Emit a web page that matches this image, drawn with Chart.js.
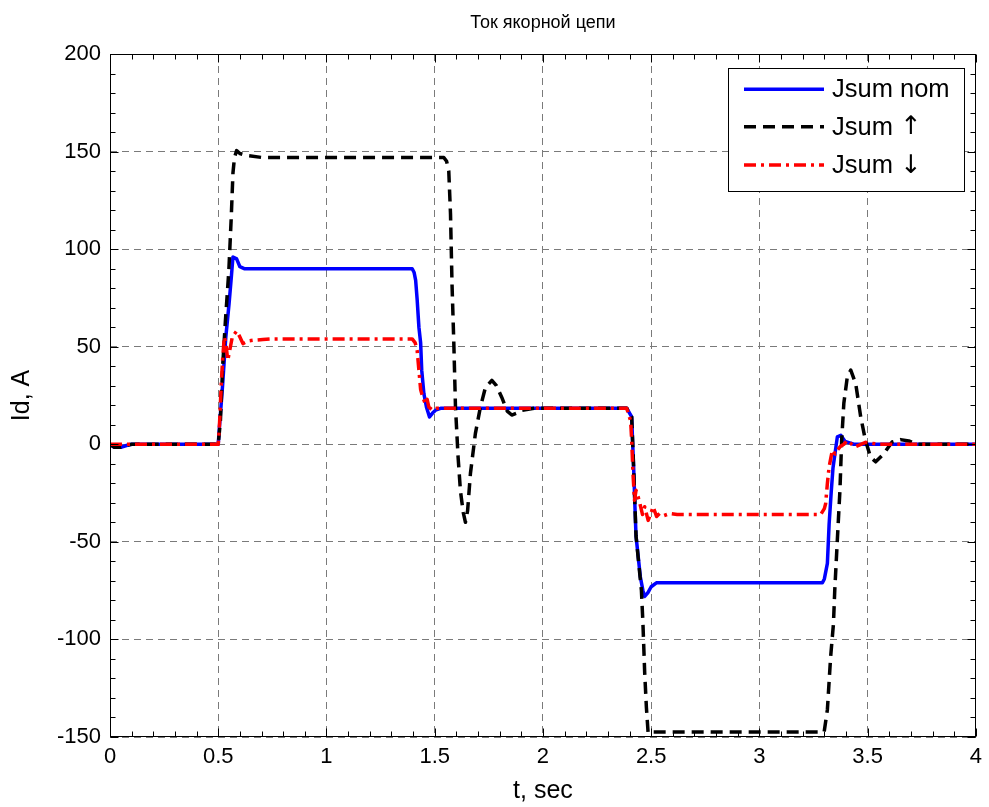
<!DOCTYPE html>
<html><head><meta charset="utf-8">
<script src="https://cdn.jsdelivr.net/npm/chart.js@4/dist/chart.umd.min.js"></script>
<style>html,body{margin:0;padding:0;background:#fff}#wrap{width:989px;height:807px}</style>
</head><body><div id="wrap"><canvas id="c" width="989" height="807"></canvas></div>
<script>
const chartTitle = 'Ток якорной цепи';
const xTitle = 't, sec';
const yTitle = 'Id, A';
const seriesNames = ['Jsum nom', 'Jsum ↑', 'Jsum ↓'];
const xTicks = [0, 0.5, 1, 1.5, 2, 2.5, 3, 3.5, 4];
const yTicks = [-150, -100, -50, 0, 50, 100, 150, 200];

// Jsum nom (blue)
const tNom = [0, 0.02, 0.05, 0.08, 0.1, 0.5, 0.505, 0.52, 0.535, 0.55, 0.56, 0.568, 0.585, 0.6, 0.62,
  1.396, 1.405, 1.412, 1.419, 1.427, 1.435, 1.44, 1.45, 1.462, 1.476, 1.49, 1.504, 1.53,
  2.387, 2.41, 2.414, 2.42, 2.425, 2.43, 2.45, 2.462, 2.47, 2.485, 2.5, 2.524,
  3.291, 3.3, 3.314, 3.322, 3.332, 3.34, 3.36, 3.376, 3.395, 3.436, 4];
const iNom = [0, -1.5, -1.5, -0.5, 0, 0, 8, 30, 55, 72, 85, 96, 95, 91, 90,
  90, 88, 84, 74, 60, 52, 38, 26, 19, 14, 16, 17.5, 18.5,
  18.5, 14, 2, -15, -32, -47, -68, -75, -78, -76, -73, -71,
  -71, -69, -61, -41, -24, -12, 3.8, 4.6, 1.5, 0, 0];

// Jsum ↑ (black dashed)
const tUp = [0, 0.02, 0.05, 0.08, 0.1, 0.5, 0.51, 0.521, 0.533, 0.549, 0.56, 0.568, 0.575, 0.585, 0.6, 0.631, 0.7,
  1.542, 1.555, 1.565, 1.573, 1.58, 1.588, 1.596, 1.608, 1.619, 1.632, 1.642, 1.652, 1.665, 1.688, 1.711, 1.734,
  1.764, 1.785, 1.81, 1.835, 1.856, 1.88, 1.902, 1.964,
  2.387, 2.41, 2.42, 2.43, 2.455, 2.462, 2.47, 2.478, 2.486, 2.5,
  3.299, 3.314, 3.329, 3.342, 3.348, 3.36, 3.372, 3.38, 3.39, 3.406, 3.422, 3.445, 3.468, 3.49, 3.513,
  3.537, 3.575, 3.613, 3.652, 3.69, 3.728, 4];
const iUp = [0, -1.5, -1.5, -0.5, 0, 0, 12, 41, 63, 89, 116, 139, 147, 150.5, 149, 148, 147,
  147, 145, 140, 118, 82, 53, 19, -6.5, -24, -35, -40, -34, -15, 5.6, 19, 29,
  32.8, 30, 24, 17, 15, 16, 17.4, 18.5,
  18.5, 14, -15, -47, -75, -92, -117, -135, -148, -147.5,
  -147.5, -136, -109, -92, -75, -49, -23.6, 2, 21, 34.5, 38, 31, 14, 2, -6.5,
  -9, -4.8, 1.2, 2.4, 1.7, 0, 0];

// Jsum ↓ (red dash-dot)
const tDown = [0, 0.5, 0.506, 0.514, 0.521, 0.528, 0.535, 0.544, 0.553, 0.565, 0.585, 0.6, 0.614, 0.64, 0.66, 0.706, 0.75,
  1.396, 1.41, 1.419, 1.427, 1.435, 1.445, 1.456, 1.465, 1.473, 1.49, 1.51,
  2.387, 2.405, 2.41, 2.416, 2.423, 2.43, 2.44, 2.448, 2.46, 2.47, 2.486, 2.5, 2.509, 2.525, 2.539, 2.56, 2.585, 2.62,
  3.283, 3.3, 3.306, 3.314, 3.322, 3.33, 3.337, 3.35, 3.36, 3.375, 3.39, 3.406, 3.44, 3.49, 3.55, 4];
const iDown = [0, 0, 10.6, 31, 44.7, 55, 52, 43, 48, 55, 58, 55, 51.6, 53, 53.3, 53.7, 54,
  54, 52, 48, 38, 28, 24, 21, 23, 19, 17.5, 18.5,
  18.5, 12, 2, -15, -28.7, -23.6, -27, -30.4, -36, -32, -39, -35, -32, -37, -35.5, -36.5, -35.5, -36,
  -36, -33, -30.4, -20, -11.6, -7, -3, -5, -3, -1, 0, 2, -1.4, 1, 0, 0];

const FONT = '"Liberation Sans", Arial, Helvetica, sans-serif';
const ARROW_FONT = '"DejaVu Sans", sans-serif';
const pts = (t, v) => t.map((x, i) => ({x: x, y: v[i]}));

function drawMixed(ctx, text, x, y, size) {
  let cx = x;
  for (const ch of text) {
    const code = ch.codePointAt(0);
    ctx.font = size + 'px ' + ((code >= 0x2190 && code <= 0x21FF) ? ARROW_FONT : FONT);
    ctx.fillText(ch, cx, y);
    cx += ctx.measureText(ch).width;
  }
}

const frame = {
  id: 'frame',
  afterDraw(chart) {
    const {ctx, chartArea: a} = chart;
    ctx.save();
    ctx.fillStyle = '#000';
    ctx.font = '18px ' + FONT;
    ctx.textAlign = 'center';
    ctx.textBaseline = 'middle';
    ctx.fillText(chartTitle, (a.left + a.right) / 2, 23);
    ctx.restore();
  },
  afterDatasetsDraw(chart) {
    const {ctx, chartArea: a, scales: {x, y}} = chart;
    ctx.save();
    ctx.strokeStyle = '#000';
    ctx.lineWidth = 1;
    ctx.setLineDash([]);
    const L = Math.round(a.left) + 0.5, R = Math.round(a.right) - 0.5;
    const T = Math.round(a.top) + 0.5, B = Math.round(a.bottom) - 0.5;
    ctx.strokeRect(L, T, R - L, B - T);
    ctx.beginPath();
    for (let i = 0; i <= 40; i++) {
      const px = Math.round(x.getPixelForValue(i / 10)) + 0.5;
      const len = i % 5 === 0 ? 8 : 5;
      ctx.moveTo(px, B); ctx.lineTo(px, B - len);
      ctx.moveTo(px, T); ctx.lineTo(px, T + len);
    }
    for (let j = -15; j <= 20; j++) {
      const py = Math.round(y.getPixelForValue(j * 10)) + 0.5;
      const len = j % 5 === 0 ? 8 : 5;
      ctx.moveTo(L, py); ctx.lineTo(L + len, py);
      ctx.moveTo(R, py); ctx.lineTo(R - len, py);
    }
    ctx.stroke();

    // legend box
    const bw = 236, bh = 123;
    const bx = Math.round(a.right) - 12 - bw, by = Math.round(a.top) + 14;
    ctx.fillStyle = '#fff';
    ctx.fillRect(bx, by, bw, bh);
    ctx.strokeRect(bx + 0.5, by + 0.5, bw, bh);
    const rows = [21.3, 58.7, 97];
    ctx.textBaseline = 'middle';
    ctx.textAlign = 'left';
    chart.data.datasets.forEach((ds, k) => {
      const ry = by + rows[k];
      ctx.beginPath();
      ctx.strokeStyle = ds.borderColor;
      ctx.lineWidth = ds.borderWidth;
      ctx.setLineDash(ds.borderDash || []);
      ctx.moveTo(bx + 16, ry); ctx.lineTo(bx + 96, ry);
      ctx.stroke();
      ctx.setLineDash([]);
      ctx.fillStyle = '#000';
      drawMixed(ctx, ds.label, bx + 104, ry + 1, 25.5);
    });
    ctx.restore();
  }
};

new Chart(document.getElementById('c'), {
  type: 'line',
  data: {
    datasets: [
      {label: seriesNames[0], data: pts(tNom, iNom), borderColor: '#0000ff', borderWidth: 3.5, order: 2},
      {label: seriesNames[1], data: pts(tUp, iUp), borderColor: '#000000', borderWidth: 3.5, borderDash: [12, 7], order: 1},
      {label: seriesNames[2], data: pts(tDown, iDown), borderColor: '#ff0000', borderWidth: 3.5, borderDash: [12, 5, 3, 5], order: 0}
    ]
  },
  options: {
    responsive: false,
    animation: false,
    devicePixelRatio: 1,
    elements: {point: {radius: 0}, line: {tension: 0, fill: false, borderJoinStyle: 'round', borderCapStyle: 'butt'}},
    layout: {padding: {left: 0, right: 10, top: 54, bottom: 0}},
    plugins: {
      legend: {display: false},
      tooltip: {enabled: false},
      title: {display: false}
    },
    scales: {
      x: {
        type: 'linear', min: 0, max: 4,
        afterBuildTicks: s => { s.ticks = xTicks.map(v => ({value: v})); },
        ticks: {color: '#000', font: {size: 22, family: FONT, lineHeight: 1.2}, padding: 7, maxRotation: 0, autoSkip: false,
          callback: v => String(v)},
        grid: {color: '#7a7a7a', lineWidth: 1, drawTicks: false},
        border: {display: false, dash: [7, 5]},
        title: {display: true, text: xTitle, color: '#000', font: {size: 25, family: FONT, lineHeight: 1.2}, padding: {top: 2, bottom: 1}},
        afterFit: s => { s.height = 70; }
      },
      y: {
        type: 'linear', min: -150, max: 200,
        afterBuildTicks: s => { s.ticks = yTicks.map(v => ({value: v})); },
        ticks: {color: '#000', font: {size: 22, family: FONT}, padding: 9, autoSkip: false,
          callback: v => String(v)},
        grid: {color: '#7a7a7a', lineWidth: 1, drawTicks: false},
        border: {display: false, dash: [7, 5]},
        title: {display: true, text: yTitle, color: '#000', font: {size: 25, family: FONT, lineHeight: 1.2}, padding: {top: 7, bottom: 0}},
        afterFit: s => { s.width = 110; }
      }
    }
  },
  plugins: [frame]
});
</script>
</body></html>
